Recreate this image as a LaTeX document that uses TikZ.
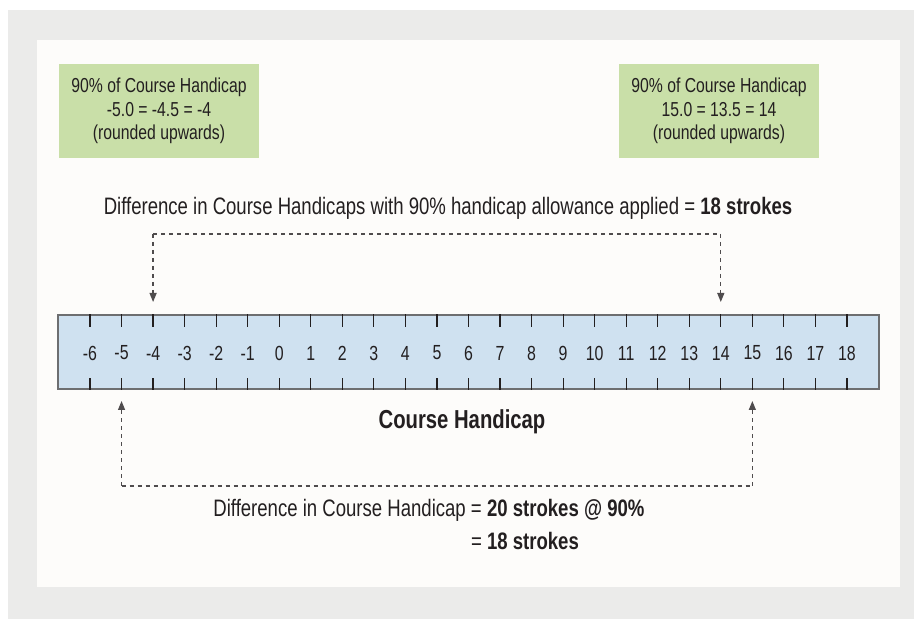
\documentclass[tikz,border=0pt]{standalone}
\usepackage{fontspec}
\setmainfont{Liberation Sans}[FakeStretch=0.78]
\usetikzlibrary{positioning, calc, arrows.meta}
\definecolor{pagegray}{HTML}{EBEBEA}
\definecolor{panelwhite}{HTML}{FDFCFA}
\definecolor{boxgreen}{HTML}{C9DFA8}
\definecolor{rulerblue}{HTML}{CFE1F0}
\definecolor{inkgray}{HTML}{231F20}
\definecolor{edgegray}{HTML}{6D6E70}
\tikzstyle{Link} = [
%dashed connector with small triangle tips:
line width = 0.6pt, draw = inkgray!80,
dash pattern = on 2pt off 2pt
]

\begin{document}
\begin{tikzpicture}[x = 0.5pt, y = -0.5pt,
				every node/.style = {text = inkgray, font = \fontsize{11.9}{14.3}\selectfont},
				greenbox/.style = {rectangle, fill = boxgreen, align = center, minimum width = 100pt, minimum height = 47pt, inner sep = 0pt, font = \fontsize{10.1}{11.75}\selectfont},
				tick/.style = {line width = 0.6pt, draw = inkgray},
				tip/.style = {-{Triangle[length = 4.5pt, width = 3.5pt]}},
			]
			\useasboundingbox (0,0) rectangle (920,619);
			\fill[pagegray] (8,10) rectangle (914,619);
			\fill[panelwhite] (37,40) rectangle (900,587);

			\node[greenbox](BoxL) at (159,111){90\% of Course Handicap\\-5.0 = -4.5 = -4\\(rounded upwards)};
			\node[greenbox](BoxR) at (719,111){90\% of Course Handicap\\15.0 = 13.5 = 14\\(rounded upwards)};

			\node(TopText) at (448,208){Difference in Course Handicaps with 90\% handicap allowance applied = \textbf{18 strokes}};

			\node[rectangle, fill = rulerblue, draw = edgegray, line width = 0.8pt, minimum width = 410.5pt, minimum height = 37pt, inner sep = 0pt](Ruler) at (468.5,352){};
			\foreach \v [count = \i from 0] in {-6,...,18}{
				\node[font = \fontsize{10.2}{12}\selectfont](N\i) at (90 + 31.54*\i, 353){\v};
				\draw[tick] (N\i |- Ruler.north) -- ++(0,13);
				\draw[tick] (N\i |- Ruler.south) -- ++(0,-12);
			}

			\node[font = \fontsize{13}{15}\selectfont\bfseries](Label) at (462,422){Course Handicap};

			\node[anchor = west, align = left, inner sep = 0pt](BottomText) at (213,526.5){Difference in Course Handicap = \textbf{20 strokes @ 90\%}\\[2.2pt]\phantom{Difference in Course Handicap }= \textbf{18 strokes}};

			% top connector, -4 to 14
			\coordinate(TL) at (N2 |- 0,234);
			\coordinate(TR) at (N20 |- 0,234);
			\coordinate(TLend) at (N2 |- 0,302);
			\coordinate(TRend) at (N20 |- 0,302);
			\draw[Link, tip](TL)--(TLend);
			\draw[Link, tip](TR)--(TRend);
			\draw[Link](TL)--(TR);

			% bottom connector, -5 to 15
			\coordinate(BL) at (N1 |- 0,486);
			\coordinate(BR) at (N21 |- 0,486);
			\coordinate(BLend) at (N1 |- 0,401);
			\coordinate(BRend) at (N21 |- 0,401);
			\draw[Link, tip](BL)--(BLend);
			\draw[Link, tip](BR)--(BRend);
			\draw[Link](BL)--(BR);

		\end{tikzpicture}
\end{document}
